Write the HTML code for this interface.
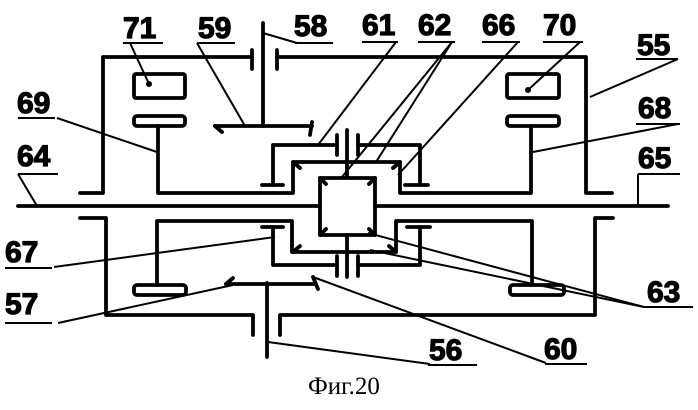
<!DOCTYPE html>
<html><head><meta charset="utf-8"><style>
html,body{margin:0;padding:0;background:#fff;width:698px;height:410px;overflow:hidden}
svg{display:block}
.n{font-family:"Liberation Sans",sans-serif;font-weight:bold;font-size:30px;fill:#000;stroke:#000;stroke-width:1.2}
</style></head><body>
<svg width="698" height="410" viewBox="0 0 698 410" xmlns="http://www.w3.org/2000/svg">
<g fill="none" stroke="#000" stroke-width="3.8" stroke-linecap="round" stroke-linejoin="round">
<line x1="18" y1="206" x2="320" y2="206"/>
<line x1="375" y1="206" x2="668" y2="206"/>
<rect x="320" y="178" width="55" height="57"/>
<polyline points="80,193 103,193 103,57 252,57"/>
<line x1="252" y1="50" x2="252" y2="69"/>
<polyline points="277,57 586,57 586,193 612,193"/>
<line x1="277" y1="50" x2="277" y2="69"/>
<polyline points="80,218 106,218 106,315 253,315 253,335"/>
<polyline points="613,218 595,218 595,315 280,315 280,335"/>
<line x1="263" y1="23" x2="263" y2="126"/>
<line x1="267" y1="283" x2="267" y2="357"/>
<line x1="215" y1="126" x2="312" y2="126"/>
<line x1="215" y1="126" x2="222" y2="132"/>
<line x1="312" y1="122" x2="310" y2="135"/>
<line x1="226" y1="284" x2="315" y2="284"/>
<line x1="226" y1="284" x2="233" y2="278"/>
<line x1="313" y1="277" x2="318" y2="289"/>
<rect x="134" y="74" width="51" height="24" rx="2"/>
<rect x="507" y="74" width="52" height="24" rx="2"/>
<rect x="134" y="116" width="51" height="10" rx="3"/>
<rect x="507" y="116" width="52" height="10" rx="3"/>
<rect x="134" y="285" width="52" height="10" rx="3"/>
<rect x="510" y="285" width="54" height="10" rx="3"/>
<polyline points="158,126 158,193 293,193 293,162 400,162 400,193 531,193 531,126"/>
<polyline points="262,185 283,185"/><polyline points="273,185 273,145 337,145"/>
<line x1="337" y1="135" x2="337" y2="155"/>
<polyline points="405,185 428,185"/><polyline points="420,185 420,145 358,145"/>
<line x1="358" y1="135" x2="358" y2="155"/>
<line x1="347" y1="130" x2="347" y2="177"/>
<polyline points="157,285 157,221 292,221 292,252 396,252 396,221 532,221 532,285"/>
<polyline points="262,227 283,227"/><polyline points="273,227 273,265 337,265"/>
<line x1="337" y1="256" x2="337" y2="276"/>
<polyline points="407,227 430,227"/><polyline points="420,227 420,265 358,265"/>
<line x1="358" y1="256" x2="358" y2="276"/>
<line x1="347" y1="235" x2="347" y2="277"/>
<line x1="293" y1="162" x2="300" y2="168"/><line x1="400" y1="162" x2="393" y2="168"/>
<line x1="293" y1="252" x2="300" y2="246"/><line x1="396" y1="252" x2="389" y2="246"/>
<line x1="320" y1="178" x2="326" y2="184"/><line x1="375" y1="178" x2="369" y2="184"/>
<line x1="320" y1="235" x2="326" y2="229"/><line x1="375" y1="235" x2="369" y2="229"/>
</g>
<g stroke="#000" stroke-width="2" fill="none">
<line x1="123" y1="43" x2="163" y2="43"/><line x1="197" y1="43" x2="235" y2="43"/>
<line x1="295" y1="43" x2="333" y2="43"/><line x1="362" y1="42" x2="398" y2="42"/>
<line x1="418" y1="42" x2="455" y2="42"/><line x1="482" y1="42" x2="520" y2="42"/>
<line x1="543" y1="42" x2="583" y2="42"/><line x1="636" y1="59" x2="678" y2="59"/>
<line x1="636" y1="124" x2="680" y2="124"/><line x1="638" y1="174" x2="680" y2="174"/>
<line x1="18" y1="118" x2="55" y2="118"/><line x1="18" y1="174" x2="58" y2="174"/>
<line x1="5" y1="268" x2="52" y2="268"/><line x1="5" y1="323" x2="52" y2="323"/>
<line x1="644" y1="307" x2="693" y2="307"/><line x1="428" y1="365" x2="477" y2="365"/>
<line x1="545" y1="364" x2="587" y2="364"/>
<line x1="130" y1="43" x2="149" y2="84"/><line x1="197" y1="43" x2="245" y2="126"/>
<line x1="297" y1="43" x2="263" y2="33"/><line x1="57" y1="118" x2="157" y2="152"/>
<line x1="18" y1="174" x2="37" y2="206"/><line x1="638" y1="174" x2="638" y2="206"/>
<line x1="396" y1="42" x2="318" y2="145"/>
<line x1="452" y1="42" x2="342" y2="177"/><line x1="452" y1="42" x2="376" y2="162"/>
<line x1="518" y1="42" x2="398" y2="175"/><line x1="580" y1="42" x2="528" y2="90"/>
<line x1="678" y1="59" x2="590" y2="97"/><line x1="678" y1="124" x2="533" y2="152"/>
<line x1="54" y1="267" x2="275" y2="237"/><line x1="58" y1="323" x2="233" y2="285"/>
<line x1="430" y1="364" x2="268" y2="342"/><line x1="546" y1="363" x2="313" y2="277"/>
<line x1="644" y1="307" x2="368" y2="233"/><line x1="644" y1="307" x2="370" y2="250"/>
</g>
<circle cx="149" cy="84" r="3"/><circle cx="528" cy="90" r="3"/>
<g class="n">
<text x="123" y="38">71</text><text x="198" y="38">59</text><text x="294" y="36">58</text>
<text x="362" y="35">61</text><text x="418" y="35">62</text><text x="482" y="35">66</text>
<text x="543" y="35">70</text><text x="637" y="55">55</text><text x="638" y="118">68</text>
<text x="638" y="168">65</text><text x="17" y="113">69</text><text x="17" y="166">64</text>
<text x="5" y="262">67</text><text x="5" y="314">57</text><text x="647" y="302">63</text>
<text x="429" y="360">56</text><text x="544" y="359">60</text>
</g>
<text x="308" y="394" font-family="'Liberation Serif',serif" font-size="25" fill="#000">Фиг.20</text>
</svg>
</body></html>
